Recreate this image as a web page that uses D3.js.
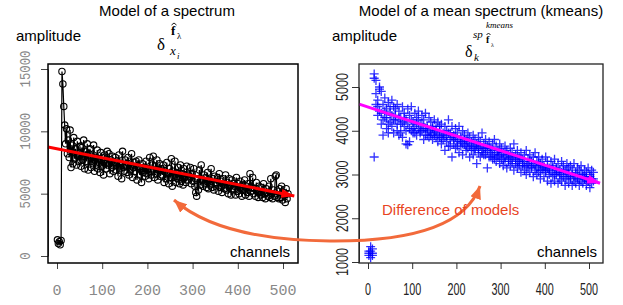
<!DOCTYPE html>
<html>
<head>
<meta charset="utf-8">
<script src="https://cdn.jsdelivr.net/npm/d3@7"></script>
<style>
  body { margin: 0; background: #fff; }
  svg { display: block; }
</style>
</head>
<body>
<script>
// left panel: one spectrum, channels 1..511 (every other channel)
const spectrumChannels = d3.range(1, 512, 2);
const spectrumValues = [
  1300,1000,1150,900,1250,14800,13800,12000,10500,9000,10200,8200,9300,7900,10100,7100,
  8900,7400,9500,7800,8600,7300,9200,8000,7600,8800,
  7200,8700,7700,9300,7000,8400,7600,9000,6900,8200,
  8600,7100,8000,7400,8900,6800,7900,7300,8500,7000,
  7800,6700,8300,7200,7900,6500,8100,7400,7000,8400,
  7300,8200,6600,7700,7100,8000,6800,7500,7900,6900,
  7600,6400,8100,7000,7400,6200,8400,7100,6800,7700,
  7300,6700,7900,6500,7600,6900,8200,6300,7100,7500,
  6800,7600,6100,7200,7700,6500,7000,5900,7400,6700,
  7100,6400,7600,6600,7000,6200,7900,6800,6500,7300,
  8000,6300,7200,6600,7700,6100,6900,7400,6400,7000,
  6500,7300,5900,6800,6200,7500,6600,5800,7000,6300,
  7800,5600,6800,6300,7600,5900,6700,6200,7100,5800,
  7300,6000,6600,5700,7000,6300,5900,7200,6100,6500,
  6400,7100,5800,6600,6000,7000,5600,5100,4800,6200,
  5300,6900,5700,7300,6100,5600,6500,5800,6300,5500,
  6700,5400,6100,5700,7000,5500,6200,5300,6400,5900,
  5800,6300,5200,6600,5500,6000,5100,6200,5700,5400,
  6500,5300,5900,5000,6200,5600,4900,6100,5400,5800,
  5600,4900,6300,5200,5800,5000,6000,5400,4800,5700,
  5300,6100,4900,5600,5100,5800,4800,6600,5200,5500,
  6300,5000,5400,4800,5900,5200,4700,5600,5100,4900,
  5500,4700,5800,5000,4600,5400,5100,4800,5600,4700,
  6200,5000,4600,5300,4800,6400,6500,4700,5200,4600,
  5400,4700,5600,4500,5100,4900,4300,5400,4600,5000
];
const spectrumTrend = [[-20, 8750], [525, 4820]];

// right panel: kmeans mean spectra, channels 2..510 (every 4th channel)
const meanChannels = d3.range(2, 512, 4);
const meanUpper = [
  1250,1350,1200,5300,5150,4700,4950,4900,4600,4750,
  4500,4650,4400,4700,4550,4350,4600,4450,4300,4550,
  4400,4250,4500,4350,4550,4200,4400,4300,4450,4150,
  4350,4250,4400,4100,4300,4200,4050,4250,4100,4200,
  4000,4150,3950,4100,4000,4250,3950,4100,3900,4050,
  3950,4100,3850,4000,3900,3800,3950,3850,3750,3900,
  3800,3700,3850,3750,3950,3700,3800,3650,3750,3600,
  3700,3800,3650,3550,3700,3600,3500,3650,3550,3450,
  3600,3500,3700,3450,3550,3400,3500,3350,3450,3550,
  3350,3450,3300,3400,3500,3300,3400,3250,3350,3200,
  3400,3300,3150,3300,3200,3350,3150,3250,3100,3300,
  3200,3100,3250,3150,3200,3100,3250,3050,3150,3100,
  3200,3000,3100,3050,3150,3000,3100,3050
];
const meanMiddle = [
  1200,1250,1150,5200,4850,4550,5000,4400,4250,4450,
  4300,4150,4550,4350,4250,4500,4150,4300,3950,4200,
  4300,4000,4150,4050,4250,4050,3950,4150,4250,4000,
  4150,4050,3900,4050,4000,3900,4100,3950,4000,3900,
  4100,3850,3900,3850,3900,3950,3650,3850,3800,3850,
  3650,3800,3750,3700,3800,3650,3750,3650,3700,3650,
  3550,3650,3600,3650,3500,3600,3450,3550,3600,3400,
  3550,3350,3500,3450,3450,3500,3350,3300,3450,3350,
  3400,3250,3400,3350,3300,3200,3350,3250,3300,3200,
  3250,3300,3200,3250,3200,3150,3250,3100,3200,3150,
  3100,3150,3100,3050,3150,3000,3100,3050,3000,3050,
  3100,2950,3050,3000,2900,3000,2950,3000,2950,2900,
  3000,2950,2900,2950,2850,2950,2900,2850
];
const meanLower = [
  1150,1100,1300,3400,4600,4350,4450,4150,3900,4300,
  4050,3950,4200,4100,3950,4250,4000,3900,4150,3850,
  4100,3700,3680,3750,4000,3950,4100,3900,4050,3950,
  4000,3800,4050,3900,3850,3950,3800,3900,3850,3750,
  3850,3700,3800,3550,3750,3650,3800,3400,3700,3600,
  3750,3500,3650,3450,3700,3550,3600,3400,3550,3450,
  3600,3250,3500,3400,3550,3450,3600,3150,3400,3500,
  3350,3450,3300,3400,3250,3350,3200,3400,3150,3300,
  3200,3350,3100,3250,3150,3300,3050,3200,3100,3000,
  3150,3050,3150,2950,3100,3000,3050,2900,3100,2950,
  3050,2850,3000,2800,2950,2850,3000,2800,2900,2850,
  2950,2750,2900,2800,2950,2750,2850,2800,2900,2750,
  2850,2800,2900,2750,2850,2700,2800,2900
];
const meanTrend = [[-20, 4610], [525, 2800]];

const channelTicks = [0, 100, 200, 300, 400, 500];
const spectrumTicks = [0, 5000, 10000, 15000];
const meanTicks = [1000, 2000, 3000, 4000, 5000];

const sans = 'Liberation Sans, Arial, sans-serif';
const serif = 'Liberation Serif, Times New Roman, serif';
const mono = 'Liberation Mono, Courier New, monospace';

const svg = d3.select('body').append('svg')
    .attr('width', 623)
    .attr('height', 305);

const defs = svg.append('defs');
function arrowHead(id, color, len, wid) {
    defs.append('marker')
        .attr('id', id)
        .attr('markerUnits', 'userSpaceOnUse')
        .attr('markerWidth', len)
        .attr('markerHeight', wid)
        .attr('refX', len)
        .attr('refY', wid / 2)
        .attr('orient', 'auto-start-reverse')
      .append('path')
        .attr('d', `M0,0L${len},${wid / 2}L0,${wid}Z`)
        .attr('fill', color);
}
arrowHead('arrRed', '#ff0000', 13, 9);
arrowHead('arrMag', '#ff00ff', 13, 9);
arrowHead('arrOrange', '#f26a3b', 13, 11);

function text(g, x, y, str, size, opts = {}) {
    const t = g.append('text')
        .attr('x', x)
        .attr('y', y)
        .attr('font-family', opts.family || sans)
        .attr('font-size', size)
        .attr('fill', opts.fill || '#000')
        .attr('text-anchor', opts.anchor || 'start')
        .text(str);
    if (opts.style) t.attr('font-style', opts.style);
    if (opts.weight) t.attr('font-weight', opts.weight);
    return t;
}

// little circumflex over the f of the formulas
function hat(g, cx, y, w) {
    g.append('path')
        .attr('d', `M${cx - w / 2},${y + 2}L${cx},${y}L${cx + w / 2},${y + 2}`)
        .attr('fill', 'none')
        .attr('stroke', '#000')
        .attr('stroke-width', 0.9);
}

// ---------- left panel ----------
const x1 = d3.scaleLinear().domain([0, 500]).range([57, 283]);
const y1 = d3.scaleLinear().domain([0, 15000]).range([256, 69]);
const left = svg.append('g');

left.append('g')
    .attr('transform', 'translate(48,0)')
    .call(d3.axisLeft(y1).tickValues(spectrumTicks).tickSize(7).tickSizeOuter(0).tickFormat(''))
    .call(g => g.selectAll('line,path').attr('stroke', '#444'));
left.append('g')
    .attr('transform', 'translate(0,263)')
    .call(d3.axisBottom(x1).tickValues(channelTicks).tickSize(6).tickSizeOuter(0).tickFormat(''))
    .call(g => g.select('.domain').remove())
    .call(g => g.selectAll('line').attr('stroke', '#444'));

spectrumTicks.forEach(v => {
    const s = String(v);
    left.append('text')
        .attr('transform', `translate(30,${y1(v)}) rotate(-90)`)
        .attr('text-anchor', 'middle')
        .attr('font-family', mono)
        .attr('font-size', 15)
        .attr('fill', '#888')
        .attr('textLength', s.length * 7.4)
        .attr('lengthAdjust', 'spacingAndGlyphs')
        .text(s);
});
channelTicks.forEach(v => {
    const s = String(v);
    left.append('text')
        .attr('x', x1(v)).attr('y', 295)
        .attr('text-anchor', 'middle')
        .attr('font-family', mono)
        .attr('font-size', 15)
        .attr('fill', '#888')
        .text(s);
});

const spectrum = spectrumChannels.map((c, i) => [c, spectrumValues[i]]);
left.append('path')
    .datum(spectrum)
    .attr('d', d3.line().x(d => x1(d[0])).y(d => y1(d[1])))
    .attr('fill', 'none')
    .attr('stroke', '#000')
    .attr('stroke-width', 1.2);
left.selectAll('circle')
    .data(spectrum)
    .join('circle')
    .attr('cx', d => x1(d[0]))
    .attr('cy', d => y1(d[1]))
    .attr('r', 3.2)
    .attr('fill', 'none')
    .attr('stroke', '#000')
    .attr('stroke-width', 1.1);

left.append('path')
    .datum(spectrumTrend)
    .attr('d', d3.line().x(d => x1(d[0])).y(d => y1(d[1])))
    .attr('stroke', '#ff0000')
    .attr('stroke-width', 3)
    .attr('marker-end', 'url(#arrRed)');

left.append('rect')
    .attr('x', 48).attr('y', 64)
    .attr('width', 250).attr('height', 199)
    .attr('fill', 'none')
    .attr('stroke', '#000')
    .attr('stroke-width', 1.5);

text(left, 167, 16, 'Model of a spectrum', 15, { anchor: 'middle' });
text(left, 16, 41, 'amplitude', 15);
text(left, 290, 257, 'channels', 15, { anchor: 'end' });

// formula: delta_{x_i}^{f-hat_lambda}
text(left, 157, 50, 'δ', 17, { family: serif });
text(left, 171, 35, 'f', 13, { family: serif, weight: 'bold' });
hat(left, 174, 23, 5);
text(left, 177, 39, 'λ', 9, { family: serif });
text(left, 170, 55, 'x', 13, { family: serif, style: 'italic' });
text(left, 177, 59, 'i', 9, { family: serif, style: 'italic' });

// ---------- right panel ----------
const x2 = d3.scaleLinear().domain([0, 500]).range([368, 589]);
const y2 = d3.scaleLinear().domain([1000, 5000]).range([262, 87]);
const right = svg.append('g');

right.append('g')
    .attr('transform', 'translate(359,0)')
    .call(d3.axisLeft(y2).tickValues(meanTicks).tickSize(7).tickSizeOuter(0).tickFormat(''))
    .call(g => g.selectAll('line,path').attr('stroke', '#333'));
right.append('g')
    .attr('transform', 'translate(0,263)')
    .call(d3.axisBottom(x2).tickValues(channelTicks).tickSize(6).tickSizeOuter(0).tickFormat(''))
    .call(g => g.select('.domain').remove())
    .call(g => g.selectAll('line').attr('stroke', '#333'));

meanTicks.forEach(v => {
    const s = String(v);
    right.append('text')
        .attr('transform', `translate(348,${y2(v)}) rotate(-90)`)
        .attr('text-anchor', 'middle')
        .attr('font-family', sans)
        .attr('font-size', 16)
        .attr('fill', '#222')
        .attr('textLength', s.length * 7)
        .attr('lengthAdjust', 'spacingAndGlyphs')
        .text(s);
});
channelTicks.forEach(v => {
    const s = String(v);
    right.append('text')
        .attr('x', x2(v)).attr('y', 295)
        .attr('text-anchor', 'middle')
        .attr('font-family', sans)
        .attr('font-size', 16)
        .attr('fill', '#222')
        .attr('textLength', s.length * 6)
        .attr('lengthAdjust', 'spacingAndGlyphs')
        .text(s);
});

const meanPoints = [];
[meanUpper, meanMiddle, meanLower].forEach(series => {
    meanChannels.forEach((c, i) => meanPoints.push([c, series[i]]));
});
right.selectAll('path.plus')
    .data(meanPoints)
    .join('path')
    .attr('class', 'plus')
    .attr('transform', d => `translate(${x2(d[0])},${y2(d[1])})`)
    .attr('d', 'M-4.5,0H4.5M0,-4.5V4.5')
    .attr('stroke', '#0000ff')
    .attr('stroke-opacity', 0.8)
    .attr('stroke-width', 1.3);

right.append('path')
    .datum(meanTrend)
    .attr('d', d3.line().x(d => x2(d[0])).y(d => y2(d[1])))
    .attr('stroke', '#ff00ff')
    .attr('stroke-width', 3)
    .attr('marker-end', 'url(#arrMag)');

right.append('rect')
    .attr('x', 359).attr('y', 64)
    .attr('width', 244).attr('height', 199)
    .attr('fill', 'none')
    .attr('stroke', '#222')
    .attr('stroke-width', 1.3);

text(right, 481, 16, 'Model of a mean spectrum (kmeans)', 15, { anchor: 'middle' });
text(right, 332, 41, 'amplitude', 15);
text(right, 597, 257, 'channels', 15, { anchor: 'end' });

// formula: delta_k^{sp f-hat_lambda ^ kmeans}
text(right, 473, 38, 'sp', 11, { family: serif, style: 'italic' });
text(right, 486, 28, 'kmeans', 9, { family: serif, style: 'italic' });
text(right, 486, 43, 'f', 10, { family: serif, weight: 'bold' });
hat(right, 488.5, 33, 4);
text(right, 491, 47, 'λ', 6, { family: serif });
text(right, 465, 57, 'δ', 16, { family: serif });
text(right, 474, 61, 'k', 11, { family: serif, style: 'italic' });

// ---------- link between the models ----------
svg.append('path')
    .attr('d', 'M174,200 Q220,240 330,241 Q460,242 480,186')
    .attr('fill', 'none')
    .attr('stroke', '#f26a3b')
    .attr('stroke-width', 3)
    .attr('marker-start', 'url(#arrOrange)')
    .attr('marker-end', 'url(#arrOrange)');

text(svg, 382, 215, 'Difference of models', 15, { fill: '#e8441f' });
</script>
</body>
</html>
